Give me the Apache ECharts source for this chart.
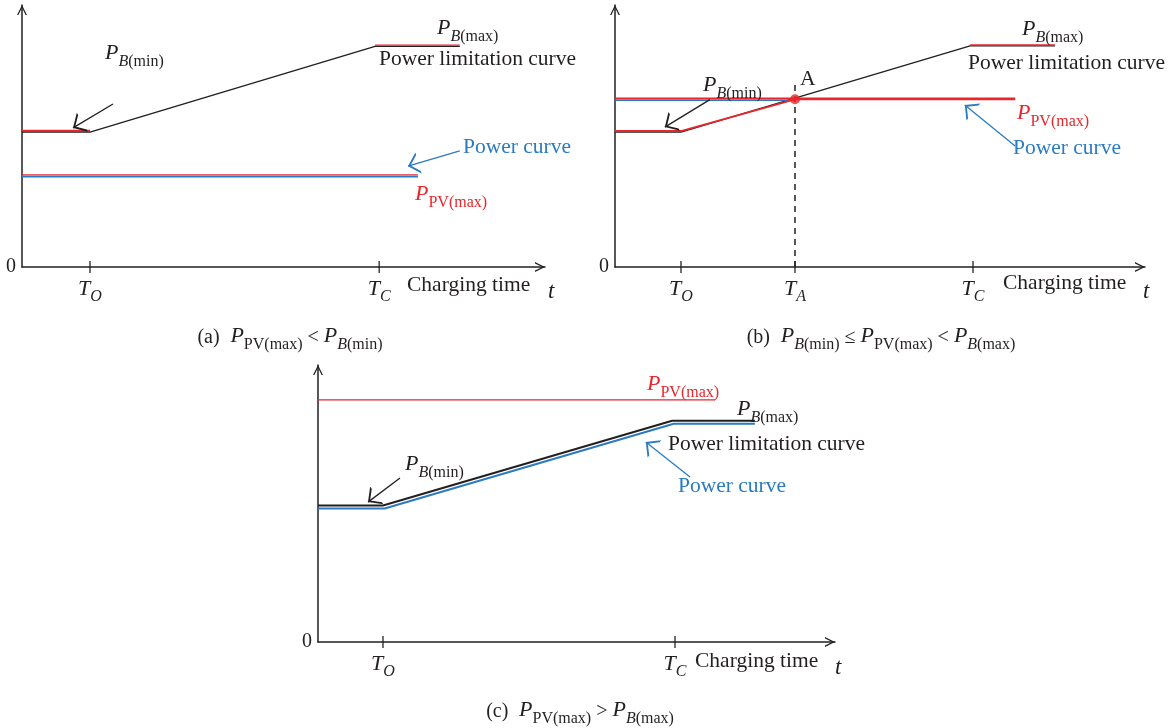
<!DOCTYPE html>
<html><head><meta charset="utf-8">
<script src="https://cdn.jsdelivr.net/npm/echarts@6/dist/echarts.min.js"></script>
<style>html,body{margin:0;padding:0;background:#fff}#c{width:1171px;height:728px}</style>
</head><body><div id="c"></div><script>
const FONT = "'Liberation Serif','DejaVu Serif',serif";
const BLACK = '#231f20', RED = '#e8262c', BLUE = '#2b7bc0';

// ---------- panel (a): P_PV(max) < P_B(min) ----------
const ticksA = [13.0, 68.3];
const tickSubA = ['O', 'C'];
const limitA = [[0, 51.5], [13.0, 51.5], [67.5, 84.2], [83.7, 84.2]];
const limitRedMinA = [[0, 52.1], [13.0, 52.1]];
const limitRedMaxA = [[67.5, 84.7], [83.7, 84.7]];
const pvA = [[0, 35.2], [75.7, 35.2]];
const powerA = [[0, 34.5], [75.7, 34.5]];
const arrowBlackA = [[17.4, 62.2], [9.75, 53.1]];
const arrowBlueA = [[83.7, 44.3], [73.8, 38.5]];

// ---------- panel (b): P_B(min) <= P_PV(max) < P_B(max) ----------
const ticksB = [12.45, 33.96, 67.55];
const tickSubB = ['O', 'A', 'C'];
const limitB = [[0, 51.5], [12.45, 51.5], [67.0, 84.4], [83.0, 84.4]];
const limitRedMaxB = [[67.0, 84.8], [83.0, 84.8]];
const pvB = [[0, 64.3], [75.5, 64.3]];
const powerBlueB = [[0, 63.6], [33.96, 63.6]];
const powerRedB = [[0, 51.9], [12.45, 51.9], [33.96, 64.0], [75.5, 64.0]];
const dashB = [[33.96, 0], [33.96, 71.4]];
const pointA = [[33.96, 64.0]];
const arrowBlackB = [[17.9, 63.9], [9.4, 53.4]];
const arrowBlueB = [[75.5, 46.2], [66.0, 61.8]];

// ---------- panel (c): P_PV(max) > P_B(max) ----------
const ticksC = [12.57, 69.05];
const tickSubC = ['O', 'C'];
const pvC = [[0, 87.4], [76.8, 87.4]];
const limitC = [[0, 49.3], [12.57, 49.3], [68.5, 79.9], [84.5, 79.9]];
const powerC = [[0, 48.2], [12.9, 48.2], [68.8, 78.8], [84.5, 78.8]];
const arrowBlackC = [[15.86, 59.2], [9.67, 50.5]];
const arrowBlueC = [[71.95, 59.6], [63.4, 72.2]];

// chevron arrow heads, tip at the symbol centre
const CHEV = 'path://M5,0 L5.01,0 L5,0.01 Z M0,20 L5,10 L10,20 L8.8,20 L5,12.4 L1.2,20 Z';
const CHEV_AXIS = 'path://M5,0 L5.01,0 L5,0.01 Z M0,20 L5,10 L10,20 L8.6,20 L5,12.8 L1.4,20 Z';

const tickRich = {
  t: {fontFamily: FONT, fontStyle: 'italic', fontSize: 22, color: BLACK, padding: [0, 0, 5, 0], verticalAlign: 'bottom'},
  s: {fontFamily: FONT, fontStyle: 'italic', fontSize: 16, color: BLACK, verticalAlign: 'bottom'}
};

function xAxisFor(gi, ticks, subs) {
  return {
    type: 'value', gridIndex: gi, min: 0, max: 100,
    axisLine: {show: true, onZero: false, lineStyle: {color: BLACK, width: 1.5},
      symbol: ['none', CHEV_AXIS], symbolSize: [13, 20]},
    axisTick: {show: false},
    splitLine: {show: false},
    axisLabel: {
      customValues: ticks, margin: 11, rich: tickRich,
      formatter: function (v) {
        const i = ticks.findIndex(t => Math.abs(t - v) < 1e-6);
        return '{t|T}{s|' + (i >= 0 ? subs[i] : '') + '}';
      }
    }
  };
}
function yAxisFor(gi) {
  return {
    type: 'value', gridIndex: gi, min: 0, max: 100,
    axisLine: {show: true, lineStyle: {color: BLACK, width: 1.5},
      symbol: ['none', CHEV_AXIS], symbolSize: [13, 20]},
    axisTick: {show: false},
    splitLine: {show: false},
    axisLabel: {customValues: [0], margin: 6, fontFamily: FONT, fontSize: 20, color: BLACK,
      formatter: function () { return '0'; }}
  };
}
function line(gi, data, color, width, z, dashed) {
  return {type: 'line', xAxisIndex: gi, yAxisIndex: gi, data: data, showSymbol: false, silent: true,
    clip: false, animation: false, z: z,
    lineStyle: {color: color, width: width, type: dashed ? [6, 5] : 'solid'}};
}
function tickMarks(gi, ticks) {
  return {type: 'scatter', xAxisIndex: gi, yAxisIndex: gi, data: ticks.map(t => [t, 0]),
    symbol: 'rect', symbolSize: [1.6, 12], itemStyle: {color: BLACK}, silent: true, clip: false, z: 5, animation: false};
}
function arrow(gi, pts, color) {
  return {type: 'lines', coordinateSystem: 'cartesian2d', xAxisIndex: gi, yAxisIndex: gi, silent: true,
    symbol: ['none', CHEV], symbolSize: [12, 22], animation: false, z: 6,
    lineStyle: {color: color, width: 1.3, opacity: 1, curveness: 0},
    data: [{coords: pts}]};
}

const option = {
  animation: false,
  backgroundColor: '#fff',
  grid: [
    {left: 22, top: 5, width: 523, height: 262},
    {left: 615, top: 5, width: 530, height: 262},
    {left: 318, top: 365, width: 517, height: 277}
  ],
  xAxis: [xAxisFor(0, ticksA, tickSubA), xAxisFor(1, ticksB, tickSubB), xAxisFor(2, ticksC, tickSubC)],
  yAxis: [yAxisFor(0), yAxisFor(1), yAxisFor(2)],
  series: [
    // (a)
    line(0, limitA, BLACK, 1.4, 2),
    line(0, limitRedMinA, RED, 1.3, 3),
    line(0, limitRedMaxA, RED, 1.3, 3),
    line(0, powerA, BLUE, 2, 2),
    line(0, pvA, RED, 1, 3),
    tickMarks(0, ticksA),
    arrow(0, arrowBlackA, BLACK),
    arrow(0, arrowBlueA, BLUE),
    // (b)
    line(1, limitB, BLACK, 1.4, 2),
    line(1, limitRedMaxB, RED, 1.3, 3),
    line(1, powerBlueB, BLUE, 1.5, 2),
    line(1, pvB, RED, 2, 3),
    line(1, powerRedB, RED, 1.8, 3),
    line(1, dashB, BLACK, 1.5, 2, true),
    {type: 'scatter', xAxisIndex: 1, yAxisIndex: 1, data: pointA, symbolSize: 10,
      itemStyle: {color: RED}, silent: true, z: 7, animation: false},
    tickMarks(1, ticksB),
    arrow(1, arrowBlackB, BLACK),
    arrow(1, arrowBlueB, BLUE),
    // (c)
    line(2, pvC, RED, 1.3, 3),
    line(2, limitC, BLACK, 2, 3),
    line(2, powerC, BLUE, 2, 2),
    tickMarks(2, ticksC),
    arrow(2, arrowBlackC, BLACK),
    arrow(2, arrowBlueC, BLUE)
  ]
};

function richP(color, size, nsize) {
  size = size || 22;
  const sub = Math.round(size * 0.72);
  return {
    p: {fontFamily: FONT, fontStyle: 'italic', fontSize: size, fill: color, padding: [0, 0, 6, 0], verticalAlign: 'bottom'},
    i: {fontFamily: FONT, fontStyle: 'italic', fontSize: sub, fill: color, verticalAlign: 'bottom'},
    u: {fontFamily: FONT, fontSize: sub, fill: color, verticalAlign: 'bottom'},
    n: {fontFamily: FONT, fontSize: nsize || size - 2, fill: color, padding: [0, 0, 5, 0], verticalAlign: 'bottom'}
  };
}
function gt(x, y, text, color, rich, align) {
  const st = {text: text, x: x, y: y, align: align || 'left', verticalAlign: 'middle',
    fontFamily: FONT, fontSize: 21.5, fill: color};
  if (rich) st.rich = rich;
  return {type: 'text', silent: true, z: 10, style: st};
}
function tt(x, y) {
  return {type: 'text', silent: true, style: {text: 't', x: x, y: y, verticalAlign: 'middle',
    fontFamily: FONT, fontStyle: 'italic', fontSize: 23, fill: BLACK}};
}
const PBMAX = '{p|P}{i|B}{u|(max)}';
const PBMIN = '{p|P}{i|B}{u|(min)}';
const PPV = '{p|P}{u|PV(max)}';

option.graphic = [
  // (a)
  gt(437, 31, PBMAX, BLACK, richP(BLACK)),
  gt(379, 59, 'Power limitation curve', BLACK),
  gt(105, 56, PBMIN, BLACK, richP(BLACK)),
  gt(463, 147, 'Power curve', BLUE),
  gt(415, 197, PPV, RED, richP(RED)),
  gt(407, 285, 'Charging time', BLACK),
  tt(548, 292),
  gt(290, 339, '{n|(a)}  ' + PPV + '{n| < }' + PBMIN, BLACK, richP(BLACK, 22, 20), 'center'),
  // (b)
  gt(1022, 32, PBMAX, BLACK, richP(BLACK)),
  gt(968, 63, 'Power limitation curve', BLACK),
  gt(800, 79, 'A', BLACK),
  gt(703, 88, PBMIN, BLACK, richP(BLACK)),
  gt(1017, 116, PPV, RED, richP(RED)),
  gt(1013, 148, 'Power curve', BLUE),
  gt(1003, 283, 'Charging time', BLACK),
  tt(1143, 292),
  gt(881, 339, '{n|(b)}  ' + PBMIN + '{n| ≤ }' + PPV + '{n| < }' + PBMAX, BLACK, richP(BLACK, 22, 20), 'center'),
  // (c)
  gt(647, 387, PPV, RED, richP(RED)),
  gt(737, 412, PBMAX, BLACK, richP(BLACK)),
  gt(668, 444, 'Power limitation curve', BLACK),
  gt(678, 486, 'Power curve', BLUE),
  gt(405, 467, PBMIN, BLACK, richP(BLACK)),
  gt(695, 661, 'Charging time', BLACK),
  tt(835, 668),
  gt(580, 713, '{n|(c)}  ' + PPV + '{n| > }' + PBMAX, BLACK, richP(BLACK, 22, 20), 'center')
];

const chart = echarts.init(document.getElementById('c'), null, {renderer: 'canvas'});
chart.setOption(option);
</script></body></html>
